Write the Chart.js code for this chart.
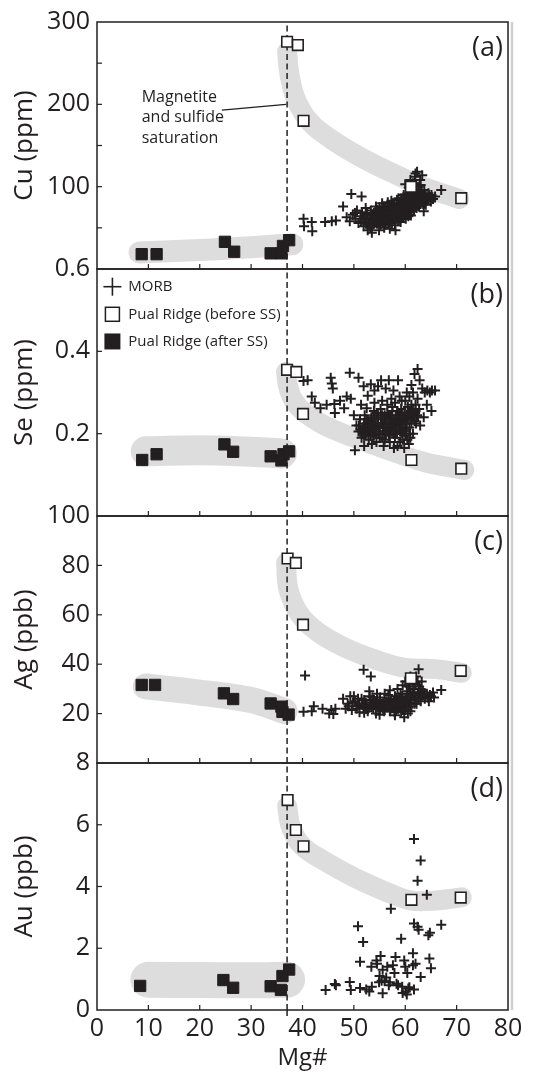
<!DOCTYPE html>
<html>
<head>
<meta charset="utf-8">
<script src="https://cdn.jsdelivr.net/npm/chart.js@4.4.1/dist/chart.umd.min.js"></script>
<style>
html,body{margin:0;padding:0;background:#fff;}
#wrap{position:relative;width:543px;height:1074px;}
</style>
</head>
<body>
<div id="wrap"><canvas id="c" width="543" height="1074"></canvas></div>
<script>
// ---------------- data ----------------
const mgTicks = [0, 10, 20, 30, 40, 50, 60, 70, 80];
const xTitle = 'Mg#';
const satMg = 37; // magnetite and sulfide saturation
const seriesNames = ['MORB', 'Pual Ridge (before SS)', 'Pual Ridge (after SS)'];
const panelLetters = ['(a)', '(b)', '(c)', '(d)'];
const yTitles = ['Cu (ppm)', 'Se (ppm)', 'Ag (ppb)', 'Au (ppb)'];
const noteLines = ['Magnetite', 'and sulfide', 'saturation'];

// (a) Cu
const cuRange = [0, 300];
const cuTickLabels = [100, 200, 300];
const cuBefore = [[37.0,276],[39.1,272],[40.2,180],[61.1,100],[70.9,86]];
const cuAfter = [[8.7,18],[11.6,18],[24.9,33],[26.7,21],[33.8,19],[35.9,19],[36.2,28],[37.4,35]];
const cuMorb = [
 [40.2,61],[40.3,52],[41.8,57],[41.9,46],[44.4,57],[45.7,58],[46.5,59],[47.9,76],[49.5,91],[51.5,88],
 [48.6,63],[49.2,58],[49.8,66],[50.3,61],[50.6,71],[50.9,56],[51.3,64],[51.6,69],[51.9,52],[52.1,60],
 [52.3,74],[52.5,66],[52.7,47],[52.9,57],[53.1,63],[53.3,71],[53.5,44],[53.7,52],[53.9,68],[54.1,60],
 [54.3,76],[54.5,55],[54.7,64],[54.9,47],[55.1,70],[55.3,58],[55.5,80],[55.7,66],[55.9,50],[56.1,73],
 [56.3,61],[56.5,69],[56.7,56],[56.9,77],[57.1,64],[57.3,83],[57.5,59],[57.7,71],[57.9,67],[58.1,47],
 [58.3,75],[58.5,62],[58.7,86],[58.9,70],[59.1,57],[59.3,79],[59.5,66],[59.7,90],[59.9,73],[60.1,61],
 [60.3,82],[60.5,69],[60.7,99],[60.9,76],[61.1,65],[61.3,87],[61.5,104],[61.7,72],[61.9,112],[62.1,80],
 [62.3,118],[62.5,92],[62.7,76],[62.9,108],[63.1,85],[63.3,114],[63.5,79],[63.7,96],[63.9,88],[64.2,83],
 [64.5,92],[64.8,87],[65.1,90],[65.4,85],[65.8,88],[67.0,96],[53.2,50],[54.2,70],[55.2,62],[56.2,54],
 [57.2,74],[58.2,66],[59.2,72],[60.2,78],[61.2,70],[62.2,86],[56.6,81],[57.8,78],[58.6,80],[59.6,63],
 [60.6,88],[61.6,94],[62.6,100],[60.0,103],[61.0,108],[62.0,116],[63.0,102],[55.8,74],[54.6,72],[53.6,60],
 [52.4,55],[51.4,58],[50.2,68],[57.0,49],[58.0,53],[59.0,60],[60.8,66],[63.6,70],[64.0,78],[65.0,82],
 [52.0,62],[52.6,68],[53.0,58],[53.4,66],[53.8,56],[54.0,64],[54.4,62],[54.8,58],[55.0,66],[55.4,68],
 [55.6,56],[56.0,64],[56.4,72],[56.8,62],[57.0,70],[57.4,66],[57.6,76],[58.0,70],[58.4,64],[58.8,74],
 [59.0,68],[59.4,76],[59.8,66],[60.0,84],[60.4,74],[60.6,64],[61.0,80],[61.4,78],[61.8,84],[62.2,74],
 [62.4,82],[62.8,90],[63.2,94],[63.4,86],[63.8,80],[64.4,86],[56.0,60],[57.6,62],[58.8,62],[60.2,70],
 [55.0,75],[54.0,56],[53.0,54],[56.8,68],[58.4,70],[59.6,80],[61.6,82],[62.6,96],[61.2,96],[60.4,92],
 [53.5,62],[54.5,66],[55.5,60],[56.5,66],[57.5,68],[58.5,72],[59.5,70],[60.5,76],[61.5,80],[62.5,84],
 [54.8,70],[55.8,68],[56.8,74],[57.8,64],[58.8,78],[59.8,82],[60.8,82],[61.8,88],[62.8,80],[63.6,84],
 [55.2,54],[56.4,58],[57.4,56],[58.6,58],[59.4,64],[60.4,66],[61.4,74],[62.4,78],[63.4,90],[64.6,90],
 [54.2,58],[55.4,72],[56.6,76],[57.6,80],[58.4,84],[59.2,86],[60.2,88],[61.2,90],[62.0,94],[63.0,96]
];
const cuBandUpper = [[37.0,264],[37.5,235],[38.8,205],[41.5,178],[45.5,158],[51,137],[57,118],[63,101],[70.5,85]];
const cuBandLower = [[8.3,20],[20,23],[30,26.5],[38,30]];

// (b) Se
const seRange = [0, 0.6];
const seTickLabels = [0.2, 0.4, 0.6];
const seBefore = [[37.0,0.355],[38.8,0.35],[40.1,0.248],[61.2,0.136],[70.9,0.115]];
const seAfter = [[8.8,0.136],[11.6,0.15],[24.8,0.174],[26.5,0.156],[33.8,0.145],[35.9,0.135],[36.3,0.15],[37.4,0.157]];
const seMorb = [
 [40.2,0.328],[41.0,0.33],[41.8,0.29],[42.4,0.275],[43.5,0.262],[44.7,0.27],[45.5,0.336],[45.7,0.322],[45.9,0.31],[46.2,0.272],
 [46.3,0.25],[47.3,0.28],[48.1,0.262],[48.6,0.29],[49.2,0.348],[49.4,0.285],[50.0,0.245],[50.2,0.16],[50.9,0.336],[51.4,0.27],
 [51.9,0.315],[52.7,0.292],[53.3,0.32],[54.0,0.305],[54.7,0.315],[55.3,0.33],[56.2,0.31],[56.8,0.33],[57.7,0.305],[58.6,0.33],
 [59.3,0.28],[60.3,0.3],[61.2,0.318],[61.8,0.345],[62.4,0.357],[62.8,0.33],[63.3,0.31],[63.8,0.3],[64.3,0.305],[64.8,0.3],
 [65.2,0.305],[65.8,0.305],[65.1,0.255],[64.2,0.27],[63.6,0.24],[62.9,0.22],
 [50.5,0.22],[50.9,0.205],[51.2,0.235],[51.5,0.19],[51.8,0.215],[52.1,0.245],[52.3,0.2],[52.6,0.225],[52.9,0.185],[53.1,0.21],
 [53.4,0.24],[53.7,0.2],[53.9,0.255],[54.2,0.22],[54.4,0.18],[54.7,0.235],[55.0,0.205],[55.2,0.26],[55.5,0.19],[55.7,0.225],
 [56.0,0.245],[56.2,0.2],[56.5,0.27],[56.7,0.215],[57.0,0.18],[57.2,0.235],[57.5,0.255],[57.7,0.2],[58.0,0.275],[58.2,0.22],
 [58.5,0.17],[58.7,0.245],[59.0,0.205],[59.2,0.26],[59.5,0.185],[59.7,0.23],[60.0,0.28],[60.2,0.21],[60.5,0.25],[60.7,0.175],
 [61.0,0.235],[61.2,0.27],[61.5,0.2],[61.8,0.25],[62.1,0.225],[62.4,0.285],[62.7,0.26],[52.0,0.17],[53.5,0.175],[55.8,0.17],
 [57.8,0.165],[59.8,0.165],[58.9,0.29],[57.3,0.285],[55.5,0.28],[54.0,0.275],[52.5,0.262],[60.8,0.29],[61.5,0.3],[62.0,0.27],
 [51.0,0.22],[51.6,0.205],[52.2,0.215],[52.8,0.23],[53.3,0.195],[53.8,0.215],[54.3,0.2],[54.8,0.215],[55.3,0.225],[55.8,0.205],
 [56.3,0.225],[56.8,0.235],[57.3,0.21],[57.8,0.225],[58.3,0.24],[58.8,0.215],[59.3,0.225],[59.8,0.24],[60.3,0.225],[60.8,0.215],
 [61.3,0.245],[58.0,0.19],[59.0,0.18],[60.0,0.195],[61.0,0.19],[57.0,0.2],[56.0,0.185],[55.0,0.19],[53.0,0.205],[52.0,0.195],
 [58.5,0.255],[59.5,0.245],[60.5,0.265],[61.5,0.26],[57.5,0.265],[56.5,0.25],[55.5,0.245],[54.5,0.25],[53.5,0.23],[58.0,0.205],
 [59.0,0.235],[60.0,0.205],[61.8,0.23],[62.3,0.245],[57.0,0.245],[55.8,0.215],[54.0,0.235],[52.6,0.21],[60.4,0.185],[59.4,0.2],
 [51.3,0.21],[52.0,0.225],[52.8,0.2],[53.6,0.22],[54.2,0.21],[54.9,0.2],[55.6,0.215],[56.4,0.21],[57.1,0.225],[57.9,0.215],
 [58.6,0.23],[59.2,0.215],[59.9,0.25],[60.6,0.24],[61.2,0.225],[53.2,0.225],[54.6,0.225],[56.0,0.23],[57.4,0.24],[58.9,0.25],
 [60.2,0.235],[61.6,0.24],[55.0,0.2],[56.8,0.195],[58.4,0.2],[59.6,0.21],[60.9,0.2],[53.9,0.195],[52.4,0.235],[62.0,0.255],
 [55.3,0.24],[56.2,0.24],[57.6,0.22],[58.2,0.235],[59.0,0.25],[60.0,0.225],[61.0,0.255],[54.0,0.245],[51.8,0.2],[62.5,0.24]
];
const seBandUpper = [[36.8,0.35],[37.2,0.315],[38.3,0.28],[40.5,0.25],[44,0.222],[49,0.195],[54,0.172],[59,0.15],[64,0.13],[71.5,0.112]];
const seBandLower = [[9.5,0.157],[20,0.16],[30,0.156],[36,0.152]];

// (c) Ag
const agRange = [0, 100];
const agTickLabels = [20, 40, 60, 80, 100];
const agBefore = [[37.1,82.8],[38.7,81],[40.1,56],[61.1,34.3],[70.8,37.3]];
const agAfter = [[8.7,31.6],[11.3,31.6],[24.7,28.2],[26.5,25.9],[33.8,24.1],[35.9,22.8],[36.1,20.7],[37.3,19.6]];
const agMorb = [
 [40.5,35.4],[40.2,20.7],[41.8,21],[42.2,23],[43.9,22],[45.2,20],[45.6,21.5],[46.0,19.8],[46.4,22],[47.9,26],
 [49.3,27],[48.4,22],[51.9,37.8],[53.3,35],[62.6,38],[67.0,29.6],[65.6,26.5],[64.8,27.5],
 [48.8,24],[49.6,21.5],[50.2,25],[50.7,23],[51.1,20.5],[51.5,26],[51.9,22.5],[52.3,24.5],[52.7,21],[53.1,27],
 [53.5,23],[53.9,25.5],[54.3,20],[54.7,22.5],[55.1,26.5],[55.5,24],[55.9,21],[56.3,25],[56.7,27.5],[57.1,22],
 [57.5,24],[57.9,20.5],[58.3,26],[58.7,23],[59.1,28],[59.5,21.5],[59.9,25],[60.3,29],[60.6,22.5],[60.9,31],
 [61.2,26],[61.5,33],[61.8,24],[62.1,35],[62.4,28],[62.7,31],[63.0,25],[63.4,29],[63.8,26],[64.2,28],
 [64.6,25],[65.0,27],[65.4,28.5],[52.0,20.3],[55.0,19.5],[58.0,19.3],[59.8,18.5],[60.5,20],[61.0,21],[56.0,28],
 [57.0,29.5],[58.5,30],[59.5,31.5],[60.0,33],[61.0,35],[62.0,32],[63.2,33],[50.0,27],[53.0,29],[54.5,28],
 [49.0,23],[49.8,24.5],[50.5,22],[51.0,24],[51.7,23.5],[52.5,23],[53.2,24.5],[53.8,22],[54.5,24.5],[55.2,23],
 [55.8,24.5],[56.5,22.5],[57.2,25.5],[57.8,23],[58.5,24.5],[59.0,22.5],[59.6,24],[60.2,26],[60.8,24.5],[61.4,27.5],
 [62.0,26.5],[62.6,28.5],[63.2,27],[63.8,28],[64.4,26.5],[56.0,21.5],[57.0,21],[58.2,21.5],[59.2,20.5],[60.0,21.5],
 [61.2,23],[62.2,24],[56.8,26],[58.0,27],[59.4,27],[60.4,28],[61.6,30],[62.4,33],[60.6,31],[59.0,25.5],
 [54.0,23.5],[55.6,22],[57.4,23.5],[58.8,26.5],[61.8,28.5],[63.0,30],[52.0,25.5],[50.8,26],[53.6,26.5],[55.0,25.5],
 [52.4,22],[53.4,23.5],[54.2,25],[55.4,24],[56.2,23.5],[57.0,24.5],[57.8,25],[58.6,22],[59.4,23],[60.2,24],
 [61.0,25.5],[61.8,26],[62.6,26],[56.6,24],[58.0,23.5],[59.8,22.5],[60.8,27],[55.0,22],[53.0,22.5],[63.4,27.5]
];
const agBandUpper = [[36.8,81],[37.3,70],[39.5,60],[43,53],[48,47],[54,42],[60,38.5],[66,38],[71,36.5]];
const agBandLower = [[9.5,31],[20,28.5],[30,25.5],[36.5,21]];

// (d) Au
const auRange = [0, 8];
const auTickLabels = [0, 2, 4, 6, 8];
const auBefore = [[37.1,6.8],[38.7,5.83],[40.2,5.3],[61.2,3.57],[70.8,3.64]];
const auAfter = [[8.4,0.78],[24.6,0.97],[26.5,0.72],[33.8,0.77],[35.8,0.65],[36.1,1.1],[37.4,1.31]];
const auMorb = [
 [44.5,0.65],[46.3,0.84],[46.5,0.8],[49.2,0.91],[49.4,0.65],[50.8,2.71],[51.8,2.2],[51.2,1.56],[51.2,0.71],[52.4,0.66],
 [53.0,0.6],[53.5,0.75],[55.6,0.54],[54.4,1.6],[54.5,1.5],[54.9,0.9],[55.0,1.1],[55.6,1.3],[55.2,1.75],[56.0,0.95],
 [56.3,1.05],[56.8,0.8],[57.2,3.28],[58.1,1.72],[57.6,1.45],[57.9,1.2],[58.3,0.85],[59.2,2.31],[59.4,0.75],[59.8,1.6],
 [60.0,1.4],[60.1,0.6],[60.3,0.5],[60.6,0.7],[60.4,1.2],[61.7,5.54],[63.0,4.84],[62.4,4.19],[64.2,3.73],[61.7,2.8],
 [62.4,2.7],[62.6,2.6],[64.5,2.42],[64.8,2.5],[67.0,2.76],[64.7,1.67],[65.0,1.35],[63.0,1.07],[61.5,1.84],[61.5,1.45],
 [61.7,0.66],[60.8,0.74],[59.5,0.55],[56.5,1.4],[55.4,0.95],[57.0,0.9],[58.6,0.8],[62.0,1.5],[53.4,1.4]
];
const auBandUpper = [[37,6.6],[37.8,5.9],[40,5.3],[44,4.85],[50,4.3],[56,3.85],[61,3.55],[66,3.55],[71,3.65]];
const auBandLower = [[10,0.98],[20,0.97],[30,0.96],[37,0.98]];

// ---------------- styling / assembly ----------------
const INK = '#231f20';
const BAND = '#dddddd';
const FONT = "'Open Sans', 'DejaVu Sans', sans-serif";
const pts = arr => arr.map(([x, y]) => ({x, y}));

const panels = [
  {id:'yA', range:cuRange, step:50,  labels:cuTickLabels, morb:cuMorb, before:cuBefore, after:cuAfter, bands:[cuBandUpper, cuBandLower], bw:[20,22]},
  {id:'yB', range:seRange, step:0.2, labels:seTickLabels, morb:seMorb, before:seBefore, after:seAfter, bands:[seBandUpper, seBandLower], bw:[20,30]},
  {id:'yC', range:agRange, step:20,  labels:agTickLabels, morb:agMorb, before:agBefore, after:agAfter, bands:[agBandUpper, agBandLower], bw:[20,26]},
  {id:'yD', range:auRange, step:2,   labels:auTickLabels, morb:auMorb, before:auBefore, after:auAfter, bands:[auBandUpper, auBandLower], bw:[20,36]}
];

const datasets = [];
panels.forEach(p => {
  p.bands.forEach((b, k) => datasets.push({
    data: pts(b), yAxisID: p.id, showLine: true, borderColor: BAND, borderWidth: p.bw[k],
    borderCapStyle: 'round', borderJoinStyle: 'round', tension: 0.4, pointRadius: 0, fill: false, order: 10
  }));
  datasets.push({
    data: [{x: satMg, y: p.range[0]}, {x: satMg, y: p.range[1]}], yAxisID: p.id, showLine: true,
    borderColor: INK, borderWidth: 1.5, borderDash: [6, 3.5], pointRadius: 0, fill: false, order: 5
  });
  datasets.push({label: seriesNames[0], data: pts(p.morb), yAxisID: p.id, pointStyle: 'cross',
    pointRadius: 5, borderColor: INK, borderWidth: 2, order: 3});
  datasets.push({label: seriesNames[1], data: pts(p.before), yAxisID: p.id, pointStyle: 'rect',
    pointRadius: 7.5, backgroundColor: '#ffffff', borderColor: INK, borderWidth: 1.6, order: 2});
  datasets.push({label: seriesNames[2], data: pts(p.after), yAxisID: p.id, pointStyle: 'rect',
    pointRadius: 8, backgroundColor: INK, borderColor: INK, borderWidth: 1, order: 1});
});

const scales = {
  x: {
    type: 'linear', position: 'bottom', min: mgTicks[0], max: mgTicks[mgTicks.length - 1],
    grid: {display: false, drawTicks: false}, border: {display: false},
    ticks: {stepSize: 10, autoSkip: false, maxRotation: 0, color: INK, padding: 4,
      font: {family: FONT, size: 25}, callback: v => mgTicks.includes(v) ? String(v) : ''},
    title: {display: true, text: xTitle, color: INK, font: {family: FONT, size: 24}, padding: {top: 0, bottom: 1}},
    afterFit: s => { s.height = 64; }
  }
};
// bottom panel first: stacked left axes are laid out so the last defined is on top
[...panels].reverse().forEach(p => {
  const i = panels.indexOf(p);
  scales[p.id] = {
    type: 'linear', position: 'left', stack: 'panels', stackWeight: 1,
    min: p.range[0], max: p.range[1],
    grid: {display: false, drawTicks: false}, border: {display: false},
    ticks: {stepSize: p.step, autoSkip: false, color: INK, padding: 7, font: {family: FONT, size: 25},
      callback: v => { const r = Math.round(v * 100) / 100; return p.labels.includes(r) ? String(r) : ''; }},
    title: {display: true, text: yTitles[i], color: INK, font: {family: FONT, size: 26}, padding: {top: 9, bottom: 0}},
    afterFit: s => { s.width = 97; }
  };
});

const decor = {
  id: 'decor',
  afterDatasetsDraw(chart) {
    const ctx = chart.ctx, ca = chart.chartArea, xs = chart.scales.x;
    const line = (x1, y1, x2, y2) => { ctx.beginPath(); ctx.moveTo(x1, y1); ctx.lineTo(x2, y2); ctx.stroke(); };
    ctx.save();
    // scan-edge grey line at right
    ctx.strokeStyle = '#cfcfcf'; ctx.lineWidth = 2.5;
    line(ca.right + 4, ca.top, ca.right + 4, ca.bottom);
    ctx.strokeStyle = INK; ctx.fillStyle = INK;
    panels.forEach((p, i) => {
      const s = chart.scales[p.id];
      ctx.lineWidth = 1.5; ctx.setLineDash([]);
      ctx.strokeRect(ca.left, s.top, ca.right - ca.left, s.bottom - s.top);
      ctx.lineWidth = 1.2;
      s.ticks.forEach(t => {
        const y = s.getPixelForValue(t.value);
        if (y > s.top + 1 && y < s.bottom - 1) line(ca.left, y, ca.left + 5, y);
      });
      xs.ticks.forEach(t => {
        const x = xs.getPixelForValue(t.value);
        if (x > ca.left + 1 && x < ca.right - 1) line(x, s.bottom, x, s.bottom - 5);
      });
      ctx.font = `27px ${FONT}`; ctx.textAlign = 'right'; ctx.textBaseline = 'middle';
      ctx.fillText(panelLetters[i], ca.right - 5, s.top + 26);
    });
    // dashed line tail below the bottom frame
    const sx = xs.getPixelForValue(satMg);
    const yD = chart.scales.yD;
    ctx.lineWidth = 1.5; ctx.setLineDash([6, 3.5]);
    line(sx, yD.bottom, sx, yD.bottom + 8);
    ctx.setLineDash([]);
    // annotation in panel (a)
    const yA = chart.scales.yA;
    ctx.font = `16px ${FONT}`; ctx.textAlign = 'left'; ctx.textBaseline = 'middle';
    const noteY = [208, 184, 158];
    noteLines.forEach((t, k) => ctx.fillText(t, xs.getPixelForValue(8.7), yA.getPixelForValue(noteY[k])));
    ctx.lineWidth = 1.2;
    line(xs.getPixelForValue(24.3), yA.getPixelForValue(193), xs.getPixelForValue(36.8), yA.getPixelForValue(200));
    // legend in panel (b)
    const yB = chart.scales.yB;
    const lx = xs.getPixelForValue(3), tx = xs.getPixelForValue(6.1);
    const ly = [0.557, 0.49, 0.424].map(v => yB.getPixelForValue(v));
    ctx.lineWidth = 1.6;
    line(lx - 9, ly[0], lx + 9, ly[0]); line(lx, ly[0] - 9, lx, ly[0] + 9);
    ctx.lineWidth = 1.5;
    ctx.fillStyle = '#fff'; ctx.fillRect(lx - 7, ly[1] - 7, 14, 14); ctx.strokeRect(lx - 7, ly[1] - 7, 14, 14);
    ctx.fillStyle = INK; ctx.fillRect(lx - 8, ly[2] - 8, 16, 16);
    ctx.font = `15px ${FONT}`;
    seriesNames.forEach((t, k) => ctx.fillText(t, tx, ly[k]));
    ctx.restore();
  }
};

new Chart(document.getElementById('c'), {
  type: 'scatter',
  data: {datasets},
  options: {
    responsive: false, animation: false, events: [],
    layout: {padding: {top: 17, right: 35, bottom: 0, left: 0}},
    plugins: {legend: {display: false}, tooltip: {enabled: false}},
    scales
  },
  plugins: [decor]
});
</script>
</body>
</html>
